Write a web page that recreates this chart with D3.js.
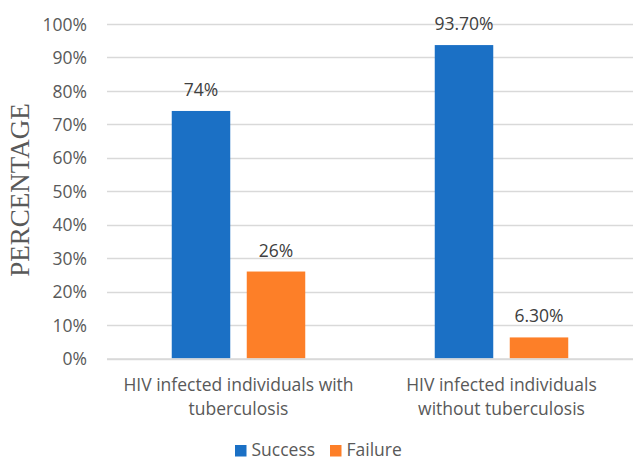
<!DOCTYPE html>
<html>
<head>
<meta charset="utf-8">
<script src="https://cdn.jsdelivr.net/npm/d3@7"></script>
<style>
  body { margin: 0; background: #fff; }
  text { font-family: "Open Sans", sans-serif; fill: #595959; }
</style>
</head>
<body>
<div id="chart"></div>
<script>
// data
var categories = [
    ["HIV infected individuals with", "tuberculosis"],
    ["HIV infected individuals", "without tuberculosis"]
];
var seriesNames = ["Success", "Failure"];
var success = [74, 93.7];
var failure = [26, 6.3];
var valueLabels = [["74%", "93.70%"], ["26%", "6.30%"]];
var yTicks = [0, 10, 20, 30, 40, 50, 60, 70, 80, 90, 100];
var colors = ["#1b70c5", "#fd7f28"];

var svgWidth = 633, svgHeight = 461;
var margin = { top: 24, right: 0, bottom: 102.5, left: 107 };
var chartWidth = svgWidth - margin.left - margin.right;
var chartHeight = svgHeight - margin.top - margin.bottom;
var groupWidth = 133.5;

var svg = d3.select("#chart")
    .append("svg")
    .attr("width", svgWidth)
    .attr("height", svgHeight);

var chartGroup = svg.append("g")
    .attr("transform", `translate(${margin.left}, ${margin.top})`);

// scales
var xScale = d3.scaleBand()
    .domain(d3.range(categories.length))
    .range([0, chartWidth]);

var xInner = d3.scaleBand()
    .domain(seriesNames)
    .range([0, groupWidth])
    .paddingInner(0.22);

var yScale = d3.scaleLinear()
    .domain([0, 100])
    .range([chartHeight, 0]);

// gridlines
chartGroup.append("g")
    .selectAll("line")
    .data(yTicks)
    .enter()
    .append("line")
    .attr("x1", 0)
    .attr("x2", chartWidth)
    .attr("y1", d => Math.round(yScale(d)) + 0.5)
    .attr("y2", d => Math.round(yScale(d)) + 0.5)
    .attr("stroke", "#d9d9d9")
    .attr("stroke-width", 1.3);

// y axis labels
var yAxis = d3.axisLeft(yScale)
    .tickValues(yTicks)
    .tickFormat(d => d + "%")
    .tickSize(0)
    .tickPadding(20);

var yAxisG = chartGroup.append("g").call(yAxis);
yAxisG.select(".domain").remove();
yAxisG.selectAll("text")
    .style("font-size", "17.5px")
    .attr("dy", "0.35em");

// bars
var series = [success, failure];
var barX = (ci, si) => xScale(ci) + (xScale.bandwidth() - groupWidth) / 2 + xInner(seriesNames[si]);

var groups = chartGroup.selectAll(".series")
    .data(series)
    .enter()
    .append("g")
    .attr("fill", (d, i) => colors[i]);

groups.each(function(vals, si) {
    var g = d3.select(this);
    g.selectAll("rect")
        .data(vals)
        .enter()
        .append("rect")
        .attr("x", (d, ci) => barX(ci, si))
        .attr("y", d => yScale(d))
        .attr("width", xInner.bandwidth())
        .attr("height", d => chartHeight - yScale(d));

    g.selectAll("text")
        .data(vals)
        .enter()
        .append("text")
        .attr("x", (d, ci) => barX(ci, si) + xInner.bandwidth() / 2)
        .attr("y", d => yScale(d) - 15)
        .attr("text-anchor", "middle")
        .style("font-size", "17.5px")
        .style("fill", "#404040")
        .text((d, ci) => valueLabels[si][ci]);
});

// x axis
var xAxisG = chartGroup.append("g")
    .attr("transform", `translate(0, ${chartHeight})`);

xAxisG.append("line")
    .attr("x1", 0)
    .attr("x2", chartWidth)
    .attr("y1", 0.5)
    .attr("y2", 0.5)
    .attr("stroke", "#d9d9d9")
    .attr("stroke-width", 1.3);

xAxisG.selectAll(".xlabel")
    .data(categories)
    .enter()
    .append("text")
    .attr("text-anchor", "middle")
    .attr("x", (d, i) => xScale(i) + xScale.bandwidth() / 2)
    .attr("y", 32)
    .style("font-size", "17.5px")
    .each(function(lines) {
        var t = d3.select(this);
        lines.forEach((l, k) => {
            t.append("tspan")
                .attr("x", t.attr("x"))
                .attr("dy", k === 0 ? 0 : 24.5)
                .text(l);
        });
    });

// y axis title
svg.append("text")
    .attr("transform", "rotate(-90)")
    .attr("x", -190)
    .attr("y", 28.5)
    .attr("text-anchor", "middle")
    .style("font-family", "'Liberation Serif', serif")
    .style("font-size", "27px")
    .text("PERCENTAGE");

// legend
var legend = svg.append("g")
    .attr("transform", "translate(235, 456)");

var legendX = [0, 95];
seriesNames.forEach((name, i) => {
    legend.append("rect")
        .attr("x", legendX[i])
        .attr("y", -11)
        .attr("width", 11.5)
        .attr("height", 11.5)
        .attr("fill", colors[i]);
    legend.append("text")
        .attr("x", legendX[i] + 16.5)
        .attr("y", 0)
        .style("font-size", "17.5px")
        .text(name);
});
</script>
</body>
</html>
